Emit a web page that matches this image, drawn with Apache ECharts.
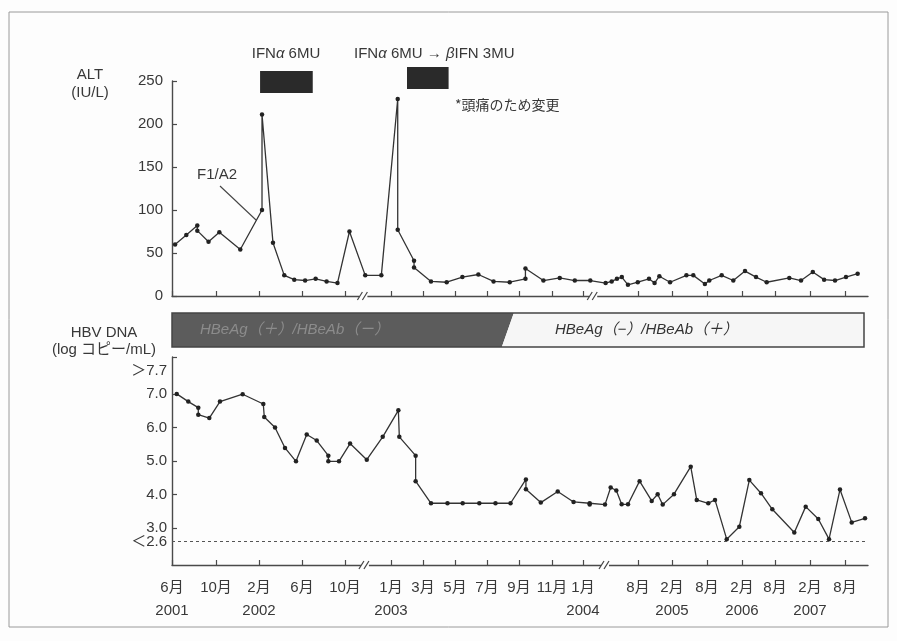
<!DOCTYPE html>
<html><head><meta charset="utf-8">
<script src="https://cdn.jsdelivr.net/npm/echarts@6/dist/echarts.min.js"></script>
<style>html,body{margin:0;padding:0;background:#fff}#c{width:897px;height:641px}</style>
</head><body><div id="c"></div>
<script>
// ---------- data (months counted from Jan 2001 = 0) ----------
const tickMonths = [5, 9, 13, 17, 21, 24, 26, 28, 30, 32, 34, 36, 43, 49, 55, 61, 67, 73, 79];
const tickLabels = ['6月','10月','2月','6月','10月','1月','3月','5月','7月','9月','11月','1月','8月','2月','8月','2月','8月','2月','8月'];
const yearMonths = [5, 13, 24, 36, 49, 61, 73];
const yearLabels = ['2001','2002','2003','2004','2005','2006','2007'];

const altMonths = [5.28, 6.30, 7.30, 7.30, 8.32, 9.31, 11.26, 13.28, 13.28, 14.30, 15.35, 16.28, 17.29, 18.27, 19.29, 20.30,
  21.29, 22.32, 23.37, 24.42, 24.42, 25.44, 25.44, 26.5, 27.48, 28.46, 29.46, 30.41, 31.42, 32.39, 32.39, 33.48, 34.5, 35.47,
  36.93, 38.88, 39.65, 40.32, 40.94, 41.72, 42.97, 44.94, 45.92, 46.77, 48.66, 51.47, 52.65, 54.64, 55.39, 57.52, 59.51,
  61.55, 63.55, 65.49, 69.45, 71.46, 73.48, 75.42, 77.29, 79.17, 81.2];
const altValues = [60, 71, 82, 76, 63, 74, 54, 100, 211, 62, 24, 19, 18, 20, 17, 15,
  75, 24, 24, 229, 77, 41, 33, 17, 16, 22, 25, 17, 16, 20, 32, 18, 21, 18,
  18, 15, 17, 20, 22, 13, 16, 20, 15, 23, 16, 24, 24, 14, 18, 24, 18,
  29, 22, 16, 21, 18, 28, 19, 18, 22, 26];

const dnaMonths = [5.43, 6.48, 7.39, 7.39, 8.39, 9.37, 11.48, 13.4, 13.49, 14.49, 15.42, 16.44, 17.44, 18.37, 19.45, 19.45,
  20.44, 21.33, 22.42, 23.46, 24.46, 24.52, 25.54, 25.54, 26.5, 27.53, 28.48, 29.52, 30.53, 31.47, 32.42, 32.42, 33.32,
  34.37, 35.39, 36.85, 36.85, 38.8, 39.52, 40.24, 40.92, 41.73, 43.28, 45.42, 46.47, 47.36, 49.34, 52.21, 53.24, 55.22,
  56.37, 58.38, 60.54, 62.33, 64.45, 66.51, 70.31, 72.26, 74.42, 76.26, 78.14, 80.17, 82.48];
const dnaValues = [7.0, 6.77, 6.59, 6.38, 6.28, 6.77, 6.99, 6.70, 6.31, 6.0, 5.39, 4.99, 5.79, 5.61, 5.16, 4.99,
  4.99, 5.52, 5.04, 5.72, 6.51, 5.72, 5.16, 4.40, 3.74, 3.74, 3.74, 3.74, 3.74, 3.74, 4.45, 4.16, 3.76,
  4.09, 3.78, 3.74, 3.70, 3.70, 4.21, 4.12, 3.71, 3.71, 4.40, 3.81, 4.01, 3.70, 4.01, 4.83, 3.84, 3.74,
  3.84, 2.67, 3.04, 4.43, 4.04, 3.56, 2.87, 3.64, 3.27, 2.67, 4.15, 3.17, 3.29];

const dnaTickValues = [2.6, 3, 4, 5, 6, 7, 7.7];
const dnaTickLabels = ['＜2.6', '3.0', '4.0', '5.0', '6.0', '7.0', '＞7.7'];
const dnaLimit = 2.6;
const ifnPeriods = [[13.1, 18.0], [25.0, 27.6]];
const seroMonth = 31.3;
const breakMonthsTop = [22.2, 37.3];
const breakMonthsBottom = [22.3, 38.8];

// ---------- piecewise time scale (the original axis is broken / non-uniform) ----------
const anchorMonths = [5, 9, 13, 17, 21, 24, 26, 28, 30, 32, 34, 36, 43, 49, 55, 61, 67, 73, 79, 83];
const anchorPos    = [0, 44, 87, 130, 173, 219, 251, 283, 315, 347, 380, 411, 466, 500, 535, 570, 603, 638, 673, 696];
function pos(m) {
  for (let i = 0; i < anchorMonths.length - 1; i++) {
    if (m <= anchorMonths[i + 1] || i === anchorMonths.length - 2) {
      const t = (m - anchorMonths[i]) / (anchorMonths[i + 1] - anchorMonths[i]);
      return anchorPos[i] + t * (anchorPos[i + 1] - anchorPos[i]);
    }
  }
}
const tickPos = tickMonths.map(pos);
const axisMax = anchorPos[anchorPos.length - 1];

const FONT = '"Liberation Sans", Arial, "Noto Sans CJK JP", sans-serif';
const TXT = '#383838';
const AX = '#4a4a4a';

const chart = echarts.init(document.getElementById('c'), null, {renderer: 'canvas'});

const xBase = {
  type: 'value', min: 0, max: axisMax,
  axisLine: {show: true, onZero: false, lineStyle: {color: AX, width: 1.4}},
  axisTick: {show: true, inside: true, length: 5, customValues: tickPos, lineStyle: {color: AX, width: 1.2}},
  splitLine: {show: false}
};

chart.setOption({
  animation: false,
  backgroundColor: '#fdfdfd',
  textStyle: {fontFamily: FONT},
  grid: [
    {left: 172, top: 81, width: 696, height: 215, outerBoundsMode: 'none'},
    {left: 172, top: 357, width: 696, height: 208, outerBoundsMode: 'none'}
  ],
  xAxis: [
    Object.assign({}, xBase, {gridIndex: 0, axisLabel: {show: false}}),
    Object.assign({}, xBase, {gridIndex: 1, axisLabel: {
      show: true, customValues: tickPos, color: TXT, fontSize: 15, fontFamily: FONT,
      lineHeight: 23, margin: 11, hideOverlap: false,
      formatter: function (v) {
        let i = tickPos.findIndex(p => Math.abs(p - v) < 0.01);
        if (i < 0) return '';
        const yi = yearMonths.indexOf(tickMonths[i]);
        return yi >= 0 ? tickLabels[i] + '\n' + yearLabels[yi] : tickLabels[i];
      }
    }})
  ],
  yAxis: [
    {gridIndex: 0, type: 'value', min: 0, max: 250, interval: 50,
     axisLine: {show: true, onZero: false, lineStyle: {color: AX, width: 1.4}},
     axisTick: {show: true, inside: true, length: 5, lineStyle: {color: AX, width: 1.2}},
     axisLabel: {color: TXT, fontSize: 15, fontFamily: FONT, margin: 9},
     splitLine: {show: false}},
    {gridIndex: 1, type: 'value', min: 1.9, max: 8.1,
     axisLine: {show: true, onZero: false, lineStyle: {color: AX, width: 1.4}},
     axisTick: {show: true, inside: true, length: 5, customValues: [3, 4, 5, 6, 7, 8.1], lineStyle: {color: AX, width: 1.2}},
     axisLabel: {color: TXT, fontSize: 15, fontFamily: FONT, margin: 5, lineHeight: 13, hideOverlap: false,
       customValues: dnaTickValues,
       formatter: function (v) {
         const i = dnaTickValues.findIndex(t => Math.abs(t - v) < 0.001);
         return i >= 0 ? dnaTickLabels[i] : '';
       }},
     splitLine: {show: false}}
  ],
  series: [
    {type: 'line', name: 'ALT', xAxisIndex: 0, yAxisIndex: 0,
     data: altMonths.map((m, i) => [pos(m), altValues[i]]),
     symbol: 'circle', symbolSize: 4.5, showAllSymbol: true,
     lineStyle: {color: '#333', width: 1.3}, itemStyle: {color: '#222'}},
    {type: 'line', name: 'HBV DNA', xAxisIndex: 1, yAxisIndex: 1,
     data: dnaMonths.map((m, i) => [pos(m), dnaValues[i]]),
     symbol: 'circle', symbolSize: 4.5, showAllSymbol: true,
     lineStyle: {color: '#333', width: 1.3}, itemStyle: {color: '#222'},
     markLine: {silent: true, symbol: ['none', 'none'], label: {show: false},
       lineStyle: {color: '#555', type: [3, 3], width: 1.1},
       data: [{yAxis: dnaLimit}]}}
  ]
});

// ---------- annotations ----------
function px(m, g) { return chart.convertToPixel({xAxisIndex: g}, pos(m)); }
const g = [];
// outer frame
g.push({type: 'rect', shape: {x: 9, y: 12, width: 879, height: 615}, style: {fill: 'none', stroke: '#9a9a9a', lineWidth: 1}, silent: true});
// axis titles
g.push({type: 'text', style: {text: 'ALT', x: 90, y: 75, textAlign: 'center', textVerticalAlign: 'middle', fill: TXT, font: '15px ' + FONT}});
g.push({type: 'text', style: {text: '(IU/L)', x: 90, y: 93, textAlign: 'center', textVerticalAlign: 'middle', fill: TXT, font: '15px ' + FONT}});
g.push({type: 'text', style: {text: 'HBV DNA', x: 104, y: 333, textAlign: 'center', textVerticalAlign: 'middle', fill: TXT, font: '15px ' + FONT}});
g.push({type: 'text', style: {text: '(log コピー/mL)', x: 104, y: 350, textAlign: 'center', textVerticalAlign: 'middle', fill: TXT, font: '15px ' + FONT}});
// '<2.6' limit label (drawn as text next to the detection-limit line)
const yLim = chart.convertToPixel({yAxisIndex: 1}, dnaLimit);
g.push({type: 'text', style: {text: dnaTickLabels[0], x: 167, y: yLim, textAlign: 'right', textVerticalAlign: 'middle', fill: TXT, font: '15px ' + FONT}});
// IFN bars
const ifnY = [[71, 22], [67, 22]];
ifnPeriods.forEach((p, i) => {
  const x0 = px(p[0], 0), x1 = px(p[1], 0);
  g.push({type: 'rect', shape: {x: x0, y: ifnY[i][0], width: x1 - x0, height: ifnY[i][1]}, style: {fill: '#2a2a2a'}});
});
g.push({type: 'text', style: {text: 'IFN{a|α} 6MU', x: 286, y: 54, textAlign: 'center', textVerticalAlign: 'middle', fill: TXT, font: '15px ' + FONT,
  rich: {a: {fontStyle: 'italic', fontSize: 15, fontFamily: FONT, fill: TXT}}}});
g.push({type: 'text', style: {text: 'IFN{a|α} 6MU → {a|β}IFN 3MU', x: 354, y: 54, textAlign: 'left', textVerticalAlign: 'middle', fill: TXT, font: '15px ' + FONT,
  rich: {a: {fontStyle: 'italic', fontSize: 15, fontFamily: FONT, fill: TXT}}}});
g.push({type: 'text', style: {text: '*頭痛のため変更', x: 455, y: 105, textAlign: 'left', textVerticalAlign: 'middle', fill: TXT, font: '14px "Noto Sans CJK JP", ' + FONT}});
// F1/A2
g.push({type: 'text', style: {text: 'F1/A2', x: 197, y: 175, textAlign: 'left', textVerticalAlign: 'middle', fill: TXT, font: '15px ' + FONT}});
g.push({type: 'line', shape: {x1: 220, y1: 186, x2: 256, y2: 220}, style: {stroke: '#444', lineWidth: 1.1}});
// HBeAg status bar
const sx = px(seroMonth, 1);
const barL = 172, barR = 864, barT = 313, barB = 347;
g.push({type: 'polygon', shape: {points: [[barL, barT], [sx + 6, barT], [sx - 6, barB], [barL, barB]]}, style: {fill: '#5c5c5c'}});
g.push({type: 'polygon', shape: {points: [[sx + 6, barT], [barR, barT], [barR, barB], [sx - 6, barB]]}, style: {fill: '#f6f6f6'}});
g.push({type: 'rect', shape: {x: barL, y: barT, width: barR - barL, height: barB - barT}, style: {fill: 'none', stroke: '#444', lineWidth: 1.5}});
g.push({type: 'text', style: {text: 'HBeAg（＋）/HBeAb（－）', x: 200, y: 330, textAlign: 'left', textVerticalAlign: 'middle', fill: '#8c8c8c', font: 'italic 15px ' + FONT}});
g.push({type: 'text', style: {text: 'HBeAg（−）/HBeAb（＋）', x: 555, y: 330, textAlign: 'left', textVerticalAlign: 'middle', fill: '#333', font: 'italic 15px ' + FONT}});
// axis break marks
function brk(x, y) {
  g.push({type: 'rect', shape: {x: x - 4, y: y - 2, width: 8, height: 4}, style: {fill: '#fdfdfd'}, z: 100});
  g.push({type: 'line', shape: {x1: x - 6, y1: y + 4, x2: x - 1, y2: y - 4}, style: {stroke: '#444', lineWidth: 1.2}, z: 101});
  g.push({type: 'line', shape: {x1: x - 1, y1: y + 4, x2: x + 4, y2: y - 4}, style: {stroke: '#444', lineWidth: 1.2}, z: 101});
}
const yTop = chart.convertToPixel({yAxisIndex: 0}, 0);
const yBot = chart.convertToPixel({yAxisIndex: 1}, 1.9);
breakMonthsTop.forEach(m => brk(px(m, 0), yTop));
breakMonthsBottom.forEach(m => brk(px(m, 1), yBot));

chart.setOption({graphic: {elements: g}});
</script>
</body></html>
